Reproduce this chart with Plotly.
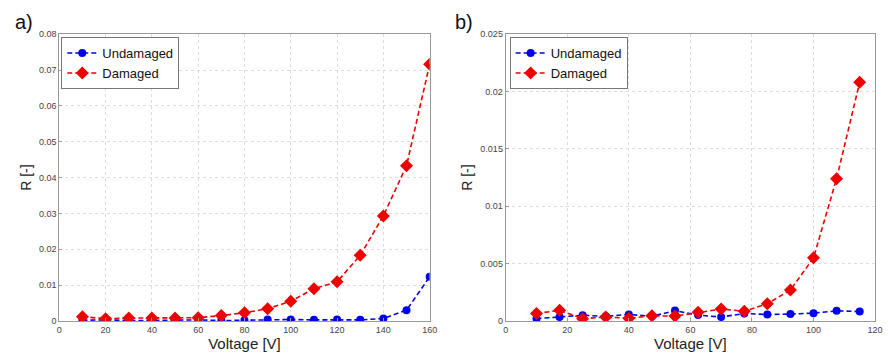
import plotly.graph_objects as go

# Panel a data
volt_a = [10, 20, 30, 40, 50, 60, 70, 80, 90, 100, 110, 120, 130, 140, 150, 160]
undam_a = [0.0002, 0.0003, 0.0001, 0.0002, 0.0002, 0.0003, 0.0001, 0.0002, 0.0004, 0.0004,
           0.0003, 0.0004, 0.0003, 0.0007, 0.0030, 0.0123]
dam_a = [0.0012, 0.0006, 0.0008, 0.0008, 0.0008, 0.0009, 0.0015, 0.0023, 0.0034, 0.0055,
         0.0090, 0.0109, 0.0183, 0.0293, 0.0433, 0.0716]

# Panel b data
volt_b = [10, 17.5, 25, 32.5, 40, 47.5, 55, 62.5, 70, 77.5, 85, 92.5, 100, 107.5, 115]
undam_b = [0.0002, 0.00034, 0.0005, 0.0004, 0.00057, 0.0004, 0.0009, 0.00051, 0.00034,
           0.00065, 0.00056, 0.0006, 0.00068, 0.00088, 0.00082]
dam_b = [0.00065, 0.00093, 0.0002, 0.00034, 0.00023, 0.00045, 0.00042, 0.00076, 0.00104,
         0.00085, 0.0015, 0.0027, 0.0055, 0.0124, 0.0208]

xticks_a = [0, 20, 40, 60, 80, 100, 120, 140, 160]
yticks_a = [0, 0.01, 0.02, 0.03, 0.04, 0.05, 0.06, 0.07, 0.08]
ytick_a_text = ["0", "0.01", "0.02", "0.03", "0.04", "0.05", "0.06", "0.07", "0.08"]
xticks_b = [0, 20, 40, 60, 80, 100, 120]
yticks_b = [0, 0.005, 0.01, 0.015, 0.02, 0.025]
ytick_b_text = ["0", "0.005", "0.01", "0.015", "0.02", "0.025"]

BLUE = "#0000ee"
RED = "#ee0000"

fig = go.Figure()

def add_pair(x, u, d, xa, ya, leg):
    fig.add_trace(go.Scatter(x=x, y=u, name="Undamaged", mode="lines+markers",
                             line=dict(color=BLUE, dash="5px,3px", width=1.6),
                             marker=dict(symbol="circle", size=8, color=BLUE),
                             xaxis=xa, yaxis=ya, legend=leg))
    fig.add_trace(go.Scatter(x=x, y=d, name="Damaged", mode="lines+markers",
                             line=dict(color=RED, dash="5px,3px", width=1.6),
                             marker=dict(symbol="diamond", size=10, color=RED),
                             xaxis=xa, yaxis=ya, legend=leg))

add_pair(volt_a, undam_a, dam_a, "x", "y", "legend")
add_pair(volt_b, undam_b, dam_b, "x2", "y2", "legend2")

ydom = [1 - 325 / 359, 1 - 30 / 359]
axis_common = dict(showline=True, linecolor="#999999", linewidth=1, mirror=True,
                   showgrid=True, gridcolor="#dddddd", griddash="dot", gridwidth=1,
                   zeroline=False, ticks="inside", ticklen=3, tickcolor="#999999",
                   tickfont=dict(family="Liberation Sans, Arial", size=9, color="#444444"))

leg_common = dict(xanchor="left", yanchor="top", bgcolor="white", bordercolor="#777777",
                  borderwidth=1, font=dict(size=13, color="#111111"), tracegroupgap=0,
                  itemwidth=30)

fig.update_layout(
    width=888, height=359,
    margin=dict(l=0, r=0, t=0, b=0),
    paper_bgcolor="white", plot_bgcolor="white",
    font=dict(family="Liberation Sans, Arial", color="#222222"),
    xaxis=dict(domain=[57 / 888, 432 / 888], range=[0, 160], tickvals=xticks_a,
               title=dict(text="Voltage [V]", font=dict(size=15), standoff=4), **axis_common),
    yaxis=dict(domain=ydom, range=[0, 0.08], tickvals=yticks_a, ticktext=ytick_a_text,
               title=dict(text="R [-]", font=dict(size=14), standoff=4), anchor="x", **axis_common),
    xaxis2=dict(domain=[509 / 888, 883 / 888], range=[0, 120], tickvals=xticks_b, anchor="y2",
                title=dict(text="Voltage [V]", font=dict(size=15), standoff=4), **axis_common),
    yaxis2=dict(domain=ydom, range=[0, 0.025], tickvals=yticks_b, ticktext=ytick_b_text,
                title=dict(text="R [-]", font=dict(size=14), standoff=4), anchor="x2", **axis_common),
    legend=dict(x=59 / 888, y=1 - 33 / 359, **leg_common),
    legend2=dict(x=513 / 888, y=1 - 33 / 359, **leg_common),
    annotations=[
        dict(text="a)", x=10 / 888, y=1 - 18 / 359, xref="paper", yref="paper",
             xanchor="left", yanchor="middle", showarrow=False,
             font=dict(size=20, family="Liberation Sans, Arial", color="#111111")),
        dict(text="b)", x=456 / 888, y=1 - 18 / 359, xref="paper", yref="paper",
             xanchor="left", yanchor="middle", showarrow=False,
             font=dict(size=20, family="Liberation Sans, Arial", color="#111111")),
    ],
)

fig.write_html("out.html")
